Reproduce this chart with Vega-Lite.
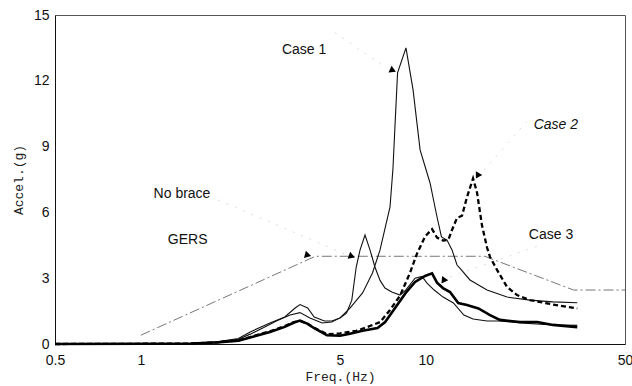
{
  "$schema": "https://vega.github.io/schema/vega-lite/v6.json",
  "width": 570,
  "height": 329,
  "autosize": "none",
  "padding": {"left": 55, "top": 15, "right": 7, "bottom": 42},
  "background": "white",
  "config": {"view": {"stroke": "#555", "strokeWidth": 1}, "font": "Liberation Sans"},
  "datasets": {
    "curves": [
      {"series": "Case 1", "freq": 0.5, "accel": 0}, {"series": "Case 1", "freq": 1, "accel": 0.01}, {"series": "Case 1", "freq": 1.5, "accel": 0.03}, {"series": "Case 1", "freq": 1.85, "accel": 0.1}, {"series": "Case 1", "freq": 2.2, "accel": 0.22}, {"series": "Case 1", "freq": 2.42, "accel": 0.45}, {"series": "Case 1", "freq": 2.7, "accel": 0.75}, {"series": "Case 1", "freq": 2.99, "accel": 1.05}, {"series": "Case 1", "freq": 3.34, "accel": 1.32}, {"series": "Case 1", "freq": 3.62, "accel": 1.43}, {"series": "Case 1", "freq": 3.92, "accel": 1.19}, {"series": "Case 1", "freq": 4.33, "accel": 0.96}, {"series": "Case 1", "freq": 4.68, "accel": 1.0}, {"series": "Case 1", "freq": 5.0, "accel": 1.19}, {"series": "Case 1", "freq": 5.42, "accel": 1.64}, {"series": "Case 1", "freq": 6.0, "accel": 2.33}, {"series": "Case 1", "freq": 6.5, "accel": 3.24}, {"series": "Case 1", "freq": 6.91, "accel": 4.29}, {"series": "Case 1", "freq": 7.49, "accel": 6.25}, {"series": "Case 1", "freq": 7.67, "accel": 8.0}, {"series": "Case 1", "freq": 7.8, "accel": 10.0}, {"series": "Case 1", "freq": 7.96, "accel": 12.36}, {"series": "Case 1", "freq": 8.52, "accel": 13.5}, {"series": "Case 1", "freq": 9.02, "accel": 11.6}, {"series": "Case 1", "freq": 9.55, "accel": 8.85}, {"series": "Case 1", "freq": 10.35, "accel": 7.34}, {"series": "Case 1", "freq": 10.95, "accel": 5.79}, {"series": "Case 1", "freq": 11.35, "accel": 4.88}, {"series": "Case 1", "freq": 11.87, "accel": 4.74}, {"series": "Case 1", "freq": 12.36, "accel": 4.29}, {"series": "Case 1", "freq": 12.87, "accel": 3.6}, {"series": "Case 1", "freq": 13.19, "accel": 3.45}, {"series": "Case 1", "freq": 14.29, "accel": 2.92}, {"series": "Case 1", "freq": 16.4, "accel": 2.46}, {"series": "Case 1", "freq": 19.28, "accel": 2.14}, {"series": "Case 1", "freq": 23.2, "accel": 2.0}, {"series": "Case 1", "freq": 27.95, "accel": 1.92}, {"series": "Case 1", "freq": 34, "accel": 1.88},
      {"series": "No brace", "freq": 0.5, "accel": 0}, {"series": "No brace", "freq": 1, "accel": 0.01}, {"series": "No brace", "freq": 1.5, "accel": 0.03}, {"series": "No brace", "freq": 1.85, "accel": 0.1}, {"series": "No brace", "freq": 2.2, "accel": 0.25}, {"series": "No brace", "freq": 2.42, "accel": 0.55}, {"series": "No brace", "freq": 2.84, "accel": 0.96}, {"series": "No brace", "freq": 3.2, "accel": 1.23}, {"series": "No brace", "freq": 3.48, "accel": 1.64}, {"series": "No brace", "freq": 3.62, "accel": 1.8}, {"series": "No brace", "freq": 3.85, "accel": 1.64}, {"series": "No brace", "freq": 4.06, "accel": 1.23}, {"series": "No brace", "freq": 4.41, "accel": 1.05}, {"series": "No brace", "freq": 4.68, "accel": 1.05}, {"series": "No brace", "freq": 5.0, "accel": 1.19}, {"series": "No brace", "freq": 5.27, "accel": 1.41}, {"series": "No brace", "freq": 5.5, "accel": 2.0}, {"series": "No brace", "freq": 5.7, "accel": 3.51}, {"series": "No brace", "freq": 5.88, "accel": 4.29}, {"series": "No brace", "freq": 6.12, "accel": 4.97}, {"series": "No brace", "freq": 6.37, "accel": 4.29}, {"series": "No brace", "freq": 6.63, "accel": 3.51}, {"series": "No brace", "freq": 6.91, "accel": 2.9}, {"series": "No brace", "freq": 7.19, "accel": 2.55}, {"series": "No brace", "freq": 7.6, "accel": 2.37}, {"series": "No brace", "freq": 8.12, "accel": 2.23}, {"series": "No brace", "freq": 8.5, "accel": 2.46}, {"series": "No brace", "freq": 9.17, "accel": 3.0}, {"series": "No brace", "freq": 9.7, "accel": 3.08}, {"series": "No brace", "freq": 10.1, "accel": 2.78}, {"series": "No brace", "freq": 10.7, "accel": 2.46}, {"series": "No brace", "freq": 11.5, "accel": 2.14}, {"series": "No brace", "freq": 12.5, "accel": 1.87}, {"series": "No brace", "freq": 13.6, "accel": 1.32}, {"series": "No brace", "freq": 14.65, "accel": 1.14}, {"series": "No brace", "freq": 16.4, "accel": 1.05}, {"series": "No brace", "freq": 18.2, "accel": 1.05}, {"series": "No brace", "freq": 21.4, "accel": 0.96}, {"series": "No brace", "freq": 27.95, "accel": 0.87}, {"series": "No brace", "freq": 34, "accel": 0.85},
      {"series": "Case 3", "freq": 0.5, "accel": 0}, {"series": "Case 3", "freq": 1, "accel": 0.01}, {"series": "Case 3", "freq": 1.5, "accel": 0.02}, {"series": "Case 3", "freq": 1.85, "accel": 0.07}, {"series": "Case 3", "freq": 2.2, "accel": 0.15}, {"series": "Case 3", "freq": 2.42, "accel": 0.3}, {"series": "Case 3", "freq": 2.84, "accel": 0.55}, {"series": "Case 3", "freq": 3.2, "accel": 0.78}, {"series": "Case 3", "freq": 3.45, "accel": 0.98}, {"series": "Case 3", "freq": 3.62, "accel": 1.07}, {"series": "Case 3", "freq": 3.85, "accel": 0.92}, {"series": "Case 3", "freq": 4.06, "accel": 0.72}, {"series": "Case 3", "freq": 4.5, "accel": 0.4}, {"series": "Case 3", "freq": 5.0, "accel": 0.38}, {"series": "Case 3", "freq": 5.42, "accel": 0.47}, {"series": "Case 3", "freq": 6.0, "accel": 0.6}, {"series": "Case 3", "freq": 6.77, "accel": 0.73}, {"series": "Case 3", "freq": 7.2, "accel": 1.0}, {"series": "Case 3", "freq": 7.67, "accel": 1.5}, {"series": "Case 3", "freq": 8.5, "accel": 2.33}, {"series": "Case 3", "freq": 9.17, "accel": 2.83}, {"series": "Case 3", "freq": 9.94, "accel": 3.1}, {"series": "Case 3", "freq": 10.52, "accel": 3.22}, {"series": "Case 3", "freq": 10.95, "accel": 2.8}, {"series": "Case 3", "freq": 11.49, "accel": 2.55}, {"series": "Case 3", "freq": 12.16, "accel": 2.37}, {"series": "Case 3", "freq": 13.0, "accel": 1.87}, {"series": "Case 3", "freq": 13.95, "accel": 1.78}, {"series": "Case 3", "freq": 15.3, "accel": 1.62}, {"series": "Case 3", "freq": 16.8, "accel": 1.32}, {"series": "Case 3", "freq": 18.2, "accel": 1.1}, {"series": "Case 3", "freq": 21.4, "accel": 1.0}, {"series": "Case 3", "freq": 24.6, "accel": 1.0}, {"series": "Case 3", "freq": 27.95, "accel": 0.87}, {"series": "Case 3", "freq": 34, "accel": 0.76},
      {"series": "Case 2", "freq": 0.5, "accel": 0}, {"series": "Case 2", "freq": 1, "accel": 0.01}, {"series": "Case 2", "freq": 1.5, "accel": 0.02}, {"series": "Case 2", "freq": 1.85, "accel": 0.07}, {"series": "Case 2", "freq": 2.2, "accel": 0.16}, {"series": "Case 2", "freq": 2.42, "accel": 0.32}, {"series": "Case 2", "freq": 2.84, "accel": 0.58}, {"series": "Case 2", "freq": 3.2, "accel": 0.82}, {"series": "Case 2", "freq": 3.45, "accel": 1.0}, {"series": "Case 2", "freq": 3.62, "accel": 1.05}, {"series": "Case 2", "freq": 3.85, "accel": 0.92}, {"series": "Case 2", "freq": 4.06, "accel": 0.74}, {"series": "Case 2", "freq": 4.5, "accel": 0.45}, {"series": "Case 2", "freq": 5.0, "accel": 0.48}, {"series": "Case 2", "freq": 5.7, "accel": 0.6}, {"series": "Case 2", "freq": 6.25, "accel": 0.78}, {"series": "Case 2", "freq": 6.91, "accel": 1.0}, {"series": "Case 2", "freq": 7.49, "accel": 1.55}, {"series": "Case 2", "freq": 8.12, "accel": 2.2}, {"series": "Case 2", "freq": 8.8, "accel": 3.24}, {"series": "Case 2", "freq": 9.3, "accel": 4.1}, {"series": "Case 2", "freq": 9.94, "accel": 4.9}, {"series": "Case 2", "freq": 10.52, "accel": 5.24}, {"series": "Case 2", "freq": 10.95, "accel": 4.85}, {"series": "Case 2", "freq": 11.5, "accel": 4.72}, {"series": "Case 2", "freq": 12.0, "accel": 4.75}, {"series": "Case 2", "freq": 12.36, "accel": 5.2}, {"series": "Case 2", "freq": 12.87, "accel": 5.75}, {"series": "Case 2", "freq": 13.4, "accel": 5.85}, {"series": "Case 2", "freq": 13.95, "accel": 6.7}, {"series": "Case 2", "freq": 14.65, "accel": 7.55}, {"series": "Case 2", "freq": 15.13, "accel": 6.9}, {"series": "Case 2", "freq": 15.75, "accel": 5.4}, {"series": "Case 2", "freq": 16.4, "accel": 4.4}, {"series": "Case 2", "freq": 16.8, "accel": 3.97}, {"series": "Case 2", "freq": 17.8, "accel": 3.37}, {"series": "Case 2", "freq": 19.28, "accel": 2.6}, {"series": "Case 2", "freq": 20.9, "accel": 2.23}, {"series": "Case 2", "freq": 23.2, "accel": 2.0}, {"series": "Case 2", "freq": 27.95, "accel": 1.8}, {"series": "Case 2", "freq": 34, "accel": 1.62}
    ],
    "gers": [
      {"series": "GERS", "freq": 1, "accel": 0.4},
      {"series": "GERS", "freq": 4.1, "accel": 4.0},
      {"series": "GERS", "freq": 16.1, "accel": 4.0},
      {"series": "GERS", "freq": 33, "accel": 2.46},
      {"series": "GERS", "freq": 50, "accel": 2.46}
    ],
    "leaders": [
      {"label": "No brace", "freq": 1.87, "accel": 6.57}, {"label": "No brace", "freq": 5.2, "accel": 4.1},
      {"label": "Case 1", "freq": 4.8, "accel": 14.2}, {"label": "Case 1", "freq": 7.25, "accel": 12.6},
      {"label": "Case 2", "freq": 22.8, "accel": 10.2}, {"label": "Case 2", "freq": 16.0, "accel": 7.93},
      {"label": "Case 3", "freq": 25.2, "accel": 4.51}, {"label": "Case 3", "freq": 12.16, "accel": 3.06}
    ],
    "arrows": [
      {"label": "Case 1", "freq": 7.61, "accel": 12.49},
      {"label": "Case 2", "freq": 15.25, "accel": 7.71},
      {"label": "No brace", "freq": 5.46, "accel": 4.01},
      {"label": "GERS", "freq": 3.83, "accel": 4.06},
      {"label": "Case 3", "freq": 11.58, "accel": 2.92}
    ],
    "labels": [
      {"label": "Case 1", "freq": 3.74, "accel": 13.4},
      {"label": "Case 2", "freq": 28.6, "accel": 9.99},
      {"label": "No brace", "freq": 1.395, "accel": 6.84},
      {"label": "GERS", "freq": 1.46, "accel": 4.74},
      {"label": "Case 3", "freq": 27.5, "accel": 4.97}
    ]
  },
  "encoding": {
    "x": {
      "field": "freq", "type": "quantitative",
      "scale": {"type": "log", "domain": [0.5, 50]},
      "axis": {
        "values": [0.5, 1, 5, 10, 50], "format": "~g", "grid": false, "ticks": false,
        "domainColor": "#111", "labelFont": "Liberation Sans", "labelFontSize": 14, "labelColor": "#111",
        "labelPadding": 9, "labelFlush": false, "labelOverlap": false,
        "title": "Freq.(Hz)", "titleFont": "Liberation Mono", "titleFontSize": 13, "titleFontWeight": "normal", "titleColor": "#222", "titlePadding": 3
      }
    },
    "y": {
      "field": "accel", "type": "quantitative",
      "scale": {"domain": [0, 15]},
      "axis": {
        "values": [0, 3, 6, 9, 12, 15], "grid": false, "ticks": false,
        "domainColor": "#111", "labelFont": "Liberation Sans", "labelFontSize": 14, "labelColor": "#111",
        "labelPadding": 6, "labelFlush": false,
        "title": "Accel.(g)", "titleFont": "Liberation Mono", "titleFontSize": 13, "titleFontWeight": "normal", "titleColor": "#222", "titlePadding": 8
      }
    }
  },
  "layer": [
    {
      "data": {"name": "leaders"},
      "mark": {"type": "line", "color": "#dddddd", "strokeWidth": 1, "strokeDash": [2, 7]},
      "encoding": {"detail": {"field": "label"}}
    },
    {
      "data": {"name": "gers"},
      "mark": {"type": "line", "color": "#777", "strokeWidth": 1, "strokeDash": [10, 3, 2, 3]},
      "encoding": {}
    },
    {
      "data": {"name": "curves"},
      "transform": [{"filter": "datum.series === 'Case 1' || datum.series === 'No brace'"}],
      "mark": {"type": "line", "color": "#111", "strokeWidth": 1.1},
      "encoding": {"detail": {"field": "series"}}
    },
    {
      "data": {"name": "curves"},
      "transform": [{"filter": "datum.series === 'Case 3'"}],
      "mark": {"type": "line", "color": "#000", "strokeWidth": 2.6},
      "encoding": {}
    },
    {
      "data": {"name": "curves"},
      "transform": [{"filter": "datum.series === 'Case 2'"}],
      "mark": {"type": "line", "color": "#000", "strokeWidth": 2.3, "strokeDash": [5, 3]},
      "encoding": {}
    },
    {"data": {"name": "arrows"}, "transform": [{"filter": "datum.label === 'Case 1'"}], "mark": {"type": "point", "shape": "triangle", "filled": true, "color": "#000", "size": 55, "angle": 115, "opacity": 1}, "encoding": {}},
    {"data": {"name": "arrows"}, "transform": [{"filter": "datum.label === 'Case 2'"}], "mark": {"type": "point", "shape": "triangle", "filled": true, "color": "#000", "size": 55, "angle": 210, "opacity": 1}, "encoding": {}},
    {"data": {"name": "arrows"}, "transform": [{"filter": "datum.label === 'No brace'"}], "mark": {"type": "point", "shape": "triangle", "filled": true, "color": "#000", "size": 55, "angle": 110, "opacity": 1}, "encoding": {}},
    {"data": {"name": "arrows"}, "transform": [{"filter": "datum.label === 'GERS'"}], "mark": {"type": "point", "shape": "triangle", "filled": true, "color": "#000", "size": 55, "angle": 105, "opacity": 1}, "encoding": {}},
    {"data": {"name": "arrows"}, "transform": [{"filter": "datum.label === 'Case 3'"}], "mark": {"type": "point", "shape": "triangle", "filled": true, "color": "#000", "size": 55, "angle": 215, "opacity": 1}, "encoding": {}},
    {
      "data": {"name": "labels"},
      "transform": [{"filter": "datum.label !== 'Case 2'"}],
      "mark": {"type": "text", "font": "Liberation Sans", "fontSize": 14, "color": "#111", "align": "center", "baseline": "middle"},
      "encoding": {"text": {"field": "label"}}
    },
    {
      "data": {"name": "labels"},
      "transform": [{"filter": "datum.label === 'Case 2'"}],
      "mark": {"type": "text", "font": "Liberation Sans", "fontSize": 14, "fontStyle": "italic", "color": "#111", "align": "center", "baseline": "middle"},
      "encoding": {"text": {"field": "label"}}
    }
  ]
}
